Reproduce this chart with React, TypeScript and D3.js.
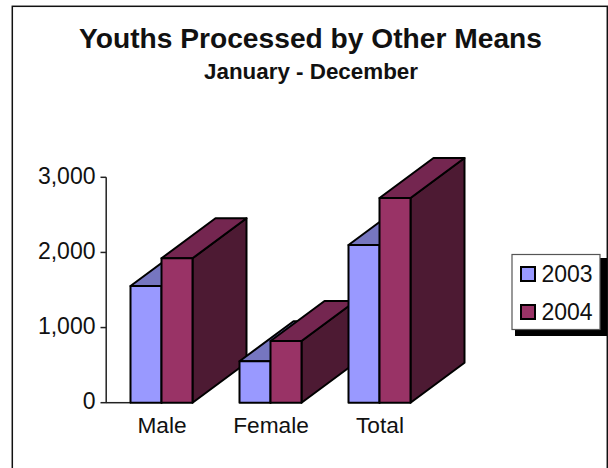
import React from "react";
import * as d3 from "d3";

const categories = ["Male", "Female", "Total"];
const seriesNames = ["2003", "2004"];
const values2003 = [1553, 551, 2099];
const values2004 = [1922, 821, 2725];
const yTicks = [0, 1000, 2000, 3000];

const FRONT = ["#9999ff", "#993366"];
const TOP = ["#7676c0", "#742650"];
const SIDE = ["#5c5c9a", "#4d1a33"];
const FONT = "'Liberation Sans', Arial, sans-serif";
const DX = 54;
const DY = 40;

const y = d3.scaleLinear().domain([0, 3000]).range([402.7, 177.3]);
const xCat = d3.scaleBand<string>().domain(categories).range([130.5, 457.5]);
const groupW = 62;
const pts = (p: number[][]) => p.map((d) => d.join(",")).join(" ");

export default function App() {
  const series = [values2003, values2004];
  return (
    <svg
      width={608}
      height={468}
      style={{ position: "fixed", left: 0, top: 0, display: "block", background: "#fff" }}
      fontFamily={FONT}
      fill="#111"
    >
      <rect x={12.3} y={6.3} width={595} height={470} fill="#fff" stroke="#111" strokeWidth={1.5} />
      <text x={310.5} y={47.5} textAnchor="middle" fontSize={28.5} fontWeight={700} textLength={463} lengthAdjust="spacingAndGlyphs">
        Youths Processed by Other Means
      </text>
      <text x={311} y={79} textAnchor="middle" fontSize={22.4} fontWeight={700} textLength={214} lengthAdjust="spacingAndGlyphs">
        January - December
      </text>

      <line x1={106.2} x2={106.2} y1={y(3000)} y2={y(0)} stroke="#222" strokeWidth={1.5} />
      <line x1={106} x2={131} y1={y(0)} y2={y(0)} stroke="#222" strokeWidth={1.5} />
      {yTicks.map((t) => (
        <g key={t}>
          <line x1={100.5} x2={106.2} y1={y(t)} y2={y(t)} stroke="#222" strokeWidth={1.5} />
          <text x={95.5} y={y(t) + 6.5} textAnchor="end" fontSize={23}>
            {d3.format(",")(t)}
          </text>
        </g>
      ))}

      {categories.map((c, i) => {
        const x0 = xCat(c) as number;
        return (
          <g key={c}>
            {series.map((vals, s) => {
              const bw = groupW / 2;
              const l = x0 + s * bw;
              const r = l + bw;
              const t = y(vals[i]);
              const b = y(0);
              return (
                <g key={s} stroke="#000" strokeWidth={2} strokeLinejoin="round">
                  <polygon points={pts([[r, b], [r + DX, b - DY], [r + DX, t - DY], [r, t]])} fill={SIDE[s]} />
                  <polygon points={pts([[l, t], [l + DX, t - DY], [r + DX, t - DY], [r, t]])} fill={TOP[s]} />
                  <rect x={l} y={t} width={bw} height={b - t} fill={FRONT[s]} />
                </g>
              );
            })}
            <text x={x0 + groupW / 2 + 0.5} y={433.3} textAnchor="middle" fontSize={22.7}>
              {c}
            </text>
          </g>
        );
      })}

      <rect x={515} y={258} width={92} height={78} fill="#000" />
      <rect x={512} y={254.5} width={88} height={75} fill="#fff" stroke="#555" strokeWidth={1.2} />
      {seriesNames.map((n, s) => (
        <g key={n}>
          <rect x={521} y={267 + s * 38} width={14} height={14} fill={FRONT[s]} stroke="#000" strokeWidth={2} />
          <text x={541.5} y={281.5 + s * 38} fontSize={23}>
            {n}
          </text>
        </g>
      ))}
    </svg>
  );
}
